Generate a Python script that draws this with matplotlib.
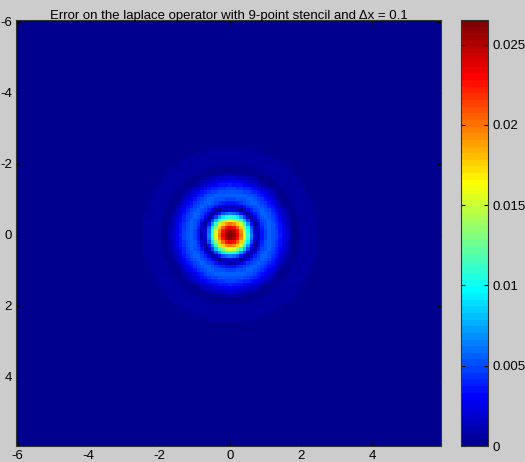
# Error of the 9-point Laplace stencil on u = exp(-(x^2 + y^2)), dx = 0.1
import numpy as np
import matplotlib
matplotlib.use('Agg')
import matplotlib.pyplot as plt
from matplotlib.colors import ListedColormap

plt.rcParams['font.family'] = ['Liberation Sans', 'DejaVu Sans']
plt.rcParams['axes.unicode_minus'] = False

# --- grid and test function ---
dx = 0.1
x_start, x_stop = -6.0, 5.9
xticks = [-6, -4, -2, 0, 2, 4]
cbar_ticks = [0, 0.005, 0.01, 0.015, 0.02, 0.025]

x = np.arange(x_start, x_stop + dx / 2, dx)
X, Y = np.meshgrid(x, x)


def u(X, Y):
    return np.exp(-(X ** 2 + Y ** 2))


exact = (4 * (X ** 2 + Y ** 2) - 4) * u(X, Y)

# 9-point stencil  (1 4 1; 4 -20 4; 1 4 1) / (6 dx^2)
edge = u(X + dx, Y) + u(X - dx, Y) + u(X, Y + dx) + u(X, Y - dx)
corner = (u(X + dx, Y + dx) + u(X - dx, Y + dx)
          + u(X + dx, Y - dx) + u(X - dx, Y - dx))
approx = (4 * edge + corner - 20 * u(X, Y)) / (6 * dx ** 2)
err = np.abs(approx - exact)


# --- MATLAB style jet(64) colormap ---
def matlab_jet(m=64):
    n = int(np.ceil(m / 4))
    ramp = np.concatenate([np.arange(1, n + 1) / n, np.ones(n - 1),
                           np.arange(n, 0, -1) / n])
    g = int(np.ceil(n / 2)) - (1 if m % 4 == 1 else 0) + np.arange(1, len(ramp) + 1)
    r = g + n
    b = g - n
    J = np.zeros((m, 3))
    J[r[r <= m] - 1, 0] = ramp[r <= m]
    J[g[g <= m] - 1, 1] = ramp[g <= m]
    J[b[b >= 1] - 1, 2] = ramp[b >= 1]
    return ListedColormap(J)


cmap = matlab_jet(64)

# --- plot ---
fig = plt.figure(figsize=(5.25, 4.62), dpi=100, facecolor=(0.8, 0.8, 0.8))
ax = fig.add_axes([0.0305, 0.0346, 0.8095, 0.922])
half = dx / 2
im = ax.imshow(err, cmap=cmap, vmin=0, vmax=err.max(), origin='upper',
               extent=[x[0] - half, x[-1] + half, x[-1] + half, x[0] - half],
               aspect='auto', interpolation='antialiased')
ax.set_xticks(xticks)
ax.set_yticks(xticks)
ax.tick_params(direction='in', top=True, right=True, length=3,
               labelsize=9.5, pad=3)
for s in ax.spines.values():
    s.set_color('#333333')
ax.set_title('Error on the laplace operator with 9-point stencil and \u0394x = 0.1',
             fontsize=9.5, pad=1)

cax = fig.add_axes([0.878, 0.0346, 0.0514, 0.922])
cb = fig.colorbar(im, cax=cax, ticks=cbar_ticks)
cb.ax.set_yticklabels(['0', '0.005', '0.01', '0.015', '0.02', '0.025'])
cb.ax.tick_params(direction='in', left=True, right=True, length=3,
                  labelsize=9.5, pad=3)
cb.outline.set_edgecolor('#333333')

fig.savefig('out.png', dpi=100, facecolor=fig.get_facecolor())
